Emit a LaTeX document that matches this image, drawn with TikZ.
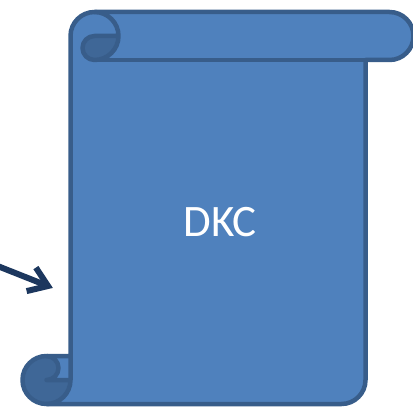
\documentclass[tikz,border=0pt]{standalone}
\usepackage{fontspec}
\newfontfamily\calib{Carlito}
\definecolor{scrollfill}{HTML}{4F81BD}
\definecolor{scrolldark}{HTML}{3F6797}
\definecolor{scrollline}{HTML}{385D8A}
\definecolor{arrowcol}{HTML}{1C375E}
\begin{document}
\begin{tikzpicture}[x=1pt,y=1pt,
  outline/.style={draw=scrollline,line width=4.5pt,line join=round},
  arrowline/.style={draw=arrowcol,line width=6pt}]
\useasboundingbox (0,0) rectangle (413,408);
% main body fill
\fill[scrollfill] (70.5,52) -- (70.5,372) arc[start angle=180,end angle=90,radius=24pt]
  -- (389.5,396) arc[start angle=90,end angle=-90,radius=24pt]
  -- (365.5,348) -- (365.5,28) arc[start angle=0,end angle=-90,radius=24pt]
  -- (46.5,4) arc[start angle=-90,end angle=-270,radius=24pt] -- cycle;
% darker curls
\fill[scrolldark] (94.5,348) arc[start angle=-90,end angle=-270,radius=12pt]
  -- (118.5,372) arc[start angle=0,end angle=-90,radius=24pt] -- cycle;
\fill[scrolldark] (46.5,52) arc[start angle=90,end angle=-90,radius=12pt]
  -- (70.5,28) arc[start angle=0,end angle=-270,radius=24pt] -- cycle;
% outlines
\draw[outline] (70.5,52) -- (70.5,372) arc[start angle=180,end angle=90,radius=24pt]
  -- (389.5,396) arc[start angle=90,end angle=-90,radius=24pt]
  -- (365.5,348) -- (365.5,28) arc[start angle=0,end angle=-90,radius=24pt]
  -- (46.5,4) arc[start angle=-90,end angle=-270,radius=24pt] -- cycle;
\draw[outline] (94.5,396) arc[start angle=90,end angle=-90,radius=24pt]
  arc[start angle=-90,end angle=-270,radius=12pt] -- (118.5,372);
\draw[outline] (365.5,348) -- (94.5,348);
\draw[outline] (46.5,52) arc[start angle=90,end angle=-90,radius=12pt] -- (70.5,28);
\draw[outline] (46.5,4) arc[start angle=-90,end angle=0,radius=24pt] -- (70.5,52);
% label
\node[text=white,font=\calib\fontsize{45}{54}\selectfont,inner sep=0pt] (label) at (220,185.5) {DKC};
% arrow
\coordinate (astart) at (-10,145);
\coordinate (atip) at (48,122);
\coordinate (aup) at (35.9,140.4);
\coordinate (alow) at (26.6,116.9);
\draw[arrowline] (astart) -- (atip);
\draw[arrowline,line join=miter] (aup) -- (atip) -- (alow);
\end{tikzpicture}
\end{document}
